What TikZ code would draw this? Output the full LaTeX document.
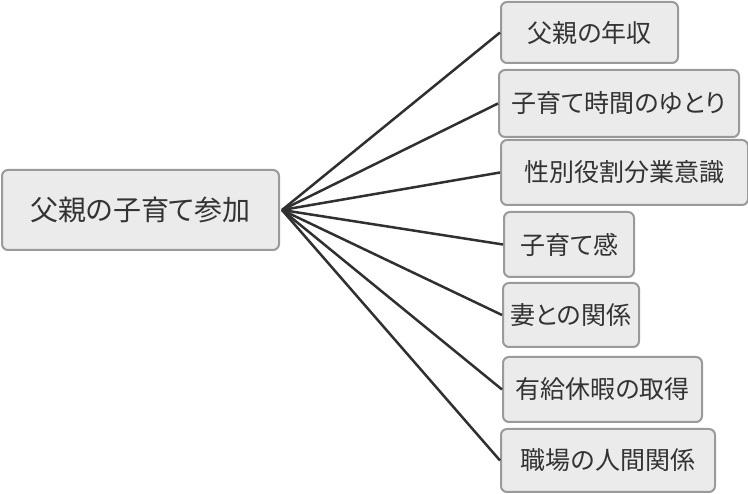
\documentclass[tikz,border=0pt]{standalone}
\usepackage{fontspec}
\newfontfamily\jpfont[RawFeature=+palt]{Noto Sans CJK JP}
\usetikzlibrary{positioning,calc}
\definecolor{boxfill}{HTML}{EBEBEB}
\definecolor{boxline}{HTML}{9A9A9A}
\definecolor{linkcol}{HTML}{303030}
\definecolor{textcol}{HTML}{333333}

\begin{document}
\begin{tikzpicture}[
  x=1pt, y=-1pt,
  mainbox/.style={rectangle, draw=boxline, line width=2pt, fill=boxfill, rounded corners=6pt, inner sep=0pt, minimum width=277pt, minimum height=80pt, font=\jpfont\fontsize{28}{32}\selectfont, text=textcol},
  factor/.style={rectangle, draw=boxline, line width=2pt, fill=boxfill, rounded corners=6pt, inner sep=0pt, minimum height=64pt, anchor=west, font=\jpfont\fontsize{25}{29}\selectfont, text=textcol},
  link/.style={draw=linkcol, line width=2.5pt}
]
  \useasboundingbox (0,0) rectangle (748,494);

  \node[mainbox] (sanka) at (140.5,210) {父親の子育て参加};

  \node[factor, minimum width=177pt, minimum height=61pt] (nenshu) at (500,32.5) {父親の年収};
  \node[factor, minimum width=240pt, minimum height=67pt] (yutori) at (498,103.5) {子育て時間のゆとり};
  \node[factor, minimum width=247pt, minimum height=65pt] (ishiki) at (500,172.5) {性別役割分業意識};
  \node[factor, minimum width=130pt, minimum height=65pt] (kan) at (503,244.5) {子育て感};
  \node[factor, minimum width=136pt] (tsuma) at (502,315) {妻との関係};
  \node[factor, minimum width=199pt, minimum height=65pt] (kyuka) at (502,389.5) {有給休暇の取得};
  \node[factor, minimum width=214pt, minimum height=63pt] (shokuba) at (500,460.5) {職場の人間関係};

  \coordinate (apex) at ($(sanka.east)+(2,0)$);

  \draw[link] (apex) -- (nenshu.west);
  \draw[link] (apex) -- (yutori.west);
  \draw[link] (apex) -- (ishiki.west);
  \draw[link] (apex) -- (kan.west);
  \draw[link] (apex) -- (tsuma.west);
  \draw[link] (apex) -- (kyuka.west);
  \draw[link] (apex) -- (shokuba.west);
\end{tikzpicture}
\end{document}
